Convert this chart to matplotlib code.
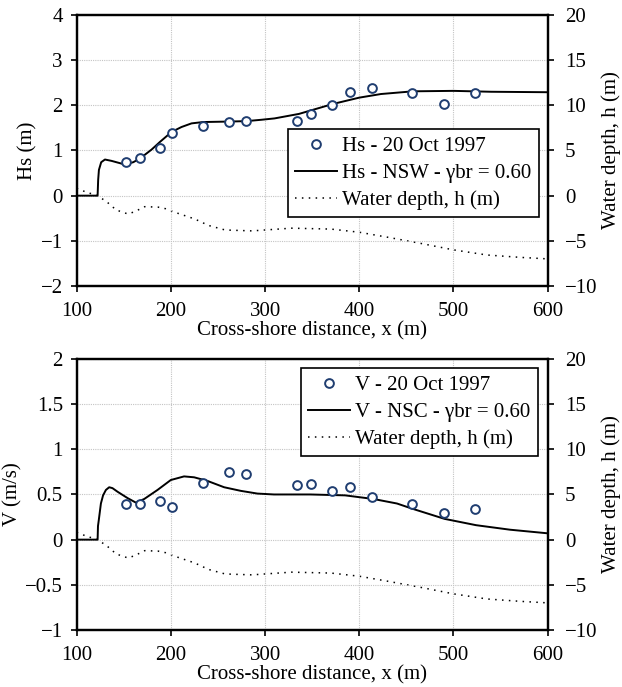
import numpy as np
import matplotlib
matplotlib.use('Agg')
import matplotlib.pyplot as plt

plt.rcParams['font.family'] = ['Liberation Serif', 'DejaVu Serif']

# observations (20 Oct 1997)
obs_x = [152, 167, 188.5, 201, 234, 262, 280, 334, 349, 371, 390, 414, 456, 489.5, 523]
obs_hs = [0.74, 0.83, 1.05, 1.38, 1.55, 1.64, 1.65, 1.65, 1.81, 2.00, 2.30, 2.39, 2.27, 2.02, 2.27]
obs_v = [0.39, 0.39, 0.43, 0.365, 0.63, 0.75, 0.73, 0.61, 0.62, 0.54, 0.58, 0.47, 0.40, 0.29, 0.34]

# model Hs (NSW)
hs_x = [100, 122.2, 122.8, 123.6, 126, 130, 137, 144, 151, 160, 167, 179.5, 188.4, 200.7, 211.3,
        221.9, 234.3, 260.8, 280.2, 296, 310, 336, 372, 400, 423, 457, 500, 540, 600]
hs_y = [0, 0, 0.35, 0.57, 0.74, 0.80, 0.77, 0.73, 0.69, 0.74, 0.82, 1.02, 1.19, 1.41, 1.52,
        1.60, 1.63, 1.64, 1.65, 1.68, 1.71, 1.81, 2.03, 2.17, 2.25, 2.31, 2.32, 2.30, 2.29]

# model V (NSC)
v_x = [100, 122.2, 122.6, 123.5, 125.7, 128, 131, 134.5, 138, 143.4, 154, 162.8, 171.7, 185.8,
       199.9, 214, 224.7, 238.8, 256.5, 274.2, 291.8, 309.5, 348, 385, 415, 440, 457, 490.5,
       524, 560, 600]
v_y = [0, 0, 0.15, 0.22, 0.40, 0.49, 0.55, 0.58, 0.57, 0.53, 0.46, 0.41, 0.45, 0.55,
       0.66, 0.70, 0.69, 0.65, 0.58, 0.54, 0.51, 0.50, 0.50, 0.49, 0.45, 0.40, 0.34, 0.23,
       0.16, 0.11, 0.07]

# water depth (right axis)
h_x = [100, 110, 122, 131.7, 142, 154.5, 161.6, 172.2, 186.4, 194.2, 207.6, 225.3, 240, 257.6,
       286, 328, 370, 400, 430, 464.6, 500, 535.6, 571, 600]
h_y = [0.8, 0.4, 0.0, -0.66, -1.59, -2.03, -1.77, -1.22, -1.27, -1.44, -1.96, -2.58, -3.3, -3.8,
       -3.9, -3.6, -3.7, -4.05, -4.6, -5.27, -6.0, -6.57, -6.83, -7.0]

marker_col = '#1f3d70'

fig = plt.figure(figsize=(6.22, 6.87), dpi=100)
ax1 = fig.add_axes([0.1233, 0.5837, 0.7572, 0.3945])
ax2 = fig.add_axes([0.1233, 0.0830, 0.7572, 0.3945])

panels = [
    (ax1, obs_hs, hs_x, hs_y, (-2, 4), 'Hs (m)', 'Hs - 20 Oct 1997',
     'Hs - NSW - \u03b3br = 0.60', (0.981, 0.578)),
    (ax2, obs_v, v_x, v_y, (-1, 2), 'V (m/s)', 'V - 20 Oct 1997',
     'V - NSC - \u03b3br = 0.60', (0.979, 0.966)),
]

fs = 15
for ax, obs, mx, my, ylim, ylab, lab_obs, lab_mod, anchor in panels:
    ax.set_xlim(100, 600)
    ax.set_ylim(*ylim)
    ax.grid(True, color='#c4c4c4', linestyle=(0, (1, 1)), linewidth=0.8)
    l_mod, = ax.plot(mx, my, color='black', linewidth=1.4, label=lab_mod)
    l_obs, = ax.plot(obs_x, obs, linestyle='none', marker='o', markersize=6.3,
                     markerfacecolor='white', markeredgecolor=marker_col,
                     markeredgewidth=1.4, label=lab_obs, zorder=4)
    axr = ax.twinx()
    axr.set_ylim(-10, 20)
    l_h, = axr.plot(h_x, h_y, color='black', linestyle=(0, (1, 3.5)), linewidth=1.1,
                    label='Water depth, h (m)')
    axr.set_ylabel('Water depth, h (m)', fontsize=fs, labelpad=3)
    axr.set_yticks([-10, -5, 0, 5, 10, 15, 20])
    axr.set_yticklabels(['\u221210', '\u22125', '0', '5', '10', '15', '20'])
    ax.set_ylabel(ylab, fontsize=fs, labelpad=2)
    ax.set_xlabel('Cross-shore distance, x (m)', fontsize=fs, labelpad=0)
    ax.tick_params(axis='x', labelsize=fs, width=1.2, length=4.5, pad=7)
    ax.tick_params(axis='y', labelsize=fs, width=1.2, length=4, pad=6)
    axr.tick_params(axis='y', labelsize=fs, width=1.2, length=4.5, pad=8)
    for a in (ax, axr):
        for s in a.spines.values():
            s.set_linewidth(1.6)
    ax.set_zorder(axr.get_zorder() + 1)
    ax.patch.set_visible(False)
    leg = ax.legend(handles=[l_obs, l_mod, l_h], loc='upper right', bbox_to_anchor=anchor,
                    fontsize=fs, frameon=True, fancybox=False, framealpha=1,
                    edgecolor='black', handlelength=2.0, handletextpad=0.25,
                    borderpad=0.35, labelspacing=0.35, borderaxespad=0)
    leg.set_zorder(10)
    leg.get_frame().set_linewidth(1.2)

ax1.set_yticks([-2, -1, 0, 1, 2, 3, 4])
ax1.set_yticklabels(['\u22122', '\u22121', '0', '1', '2', '3', '4'])
ax2.set_yticks([-1, -0.5, 0, 0.5, 1, 1.5, 2])
ax2.set_yticklabels(['\u22121', '\u22120.5', '0', '0.5', '1', '1.5', '2'])

fig.savefig('out.png', dpi=100)
